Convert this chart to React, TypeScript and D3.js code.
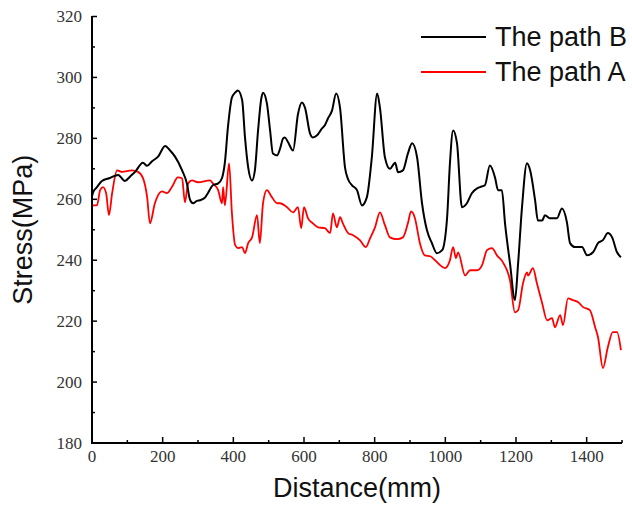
import React from "react";
import * as d3 from "d3";

const distB = [0,3,14,28,51,74,93,108,122,144,156,170,187,207,221,235,255,269,277,286,297,306,320,328,342,357,368,376,385,396,405,413,425,433,442,453,461,470,479,484,495,504,512,524,532,541,546,555,569,583,594,603,617,625,637,651,659,668,679,691,702,716,725,736,750,764,778,792,807,815,829,843,858,866,880,894,906,920,934,948,962,976,991,1005,1013,1022,1033,1047,1061,1075,1090,1098,1112,1126,1141,1149,1160,1169,1183,1197,1206,1217,1231,1240,1254,1262,1274,1282,1296,1316,1330,1344,1353,1367,1387,1401,1418,1432,1446,1460,1472,1486,1497];
const stressB = [261,262.3,264,266,267,268,266,267.5,269,272,271,272.5,274,277.5,276,274,269.5,265,260,258.7,259.5,259.7,260.6,262,264.6,265.2,267,272,284,293.4,295,295.7,292.5,280.3,270.5,266.2,269.5,282.6,293,295,291.5,282.6,275,274.4,276.5,280,280.3,278.7,276,288,291.8,290,281.6,280.3,281,283.3,284.3,286.6,289,294.7,290,270.5,266.5,264.6,263,258,260.7,273.8,294.7,290,273.8,270,272,268.9,269.5,275,278.4,273.8,258.7,249.8,245.6,242.3,243.3,254,271.8,282.6,278.4,257.4,258.7,262,263.6,264,264.6,271.1,267,263,263,252,239,226.9,239,257.4,271.8,269.5,259.7,253,253,254.8,253.8,253.8,257,252.5,245.6,244.3,244.3,241.6,242.6,245.6,246.6,248.9,247.5,242.6,241];

const distA = [0,14,23,31,40,48,57,71,85,113,130,144,156,164,178,198,212,226,243,255,263,272,283,300,334,342,357,368,371,376,388,396,405,413,425,433,442,453,467,475,484,495,509,524,532,552,569,583,592,600,611,625,640,659,674,682,693,702,710,725,739,758,775,787,801,815,829,843,863,880,894,903,914,928,942,957,971,985,999,1013,1022,1030,1036,1056,1070,1090,1104,1118,1132,1146,1163,1183,1197,1206,1220,1231,1234,1248,1259,1274,1288,1302,1310,1325,1333,1347,1361,1376,1390,1409,1424,1432,1446,1460,1474,1486,1497];
const stressA = [258,258,263,264,262,254.8,262,269.5,269,269.5,269,267,260.7,252.1,258.7,262.6,262,264,267.2,266.9,259,265.2,266.2,265.6,266.2,265.2,263,258.7,264,258,271.8,255.4,245,244,244.3,242.3,245.6,247.5,254.8,245.6,258.7,263,260.7,258.7,258.7,257.4,255.7,257.4,250.5,257.4,253.8,252.1,250.8,250.5,248.9,255.4,250.8,254.1,252.1,248.9,248.2,246.6,244.3,247.2,250.8,255.7,251.5,247.5,246.9,247.5,252.1,256,253.8,245.6,241.6,241.3,240,238.4,237.4,240,244.3,240.7,242.6,235,236.7,236.7,238.4,243.3,244,241.6,239.3,233.4,222.9,223.6,232.5,236,235,237.4,232.5,225.9,220.3,221,218,222,218.7,227.5,226.9,226.2,224.6,223.6,218,214.8,204.6,211.5,216.4,216.4,210.5];

const xMajor = [0,200,400,600,800,1000,1200,1400];
const xMinor = [100,300,500,700,900,1100,1300,1500];
const yMajor = [180,200,220,240,260,280,300,320];
const yMinor = [190,210,230,250,270,290,310];

const seriesNames = ["The path B", "The path A"];
const seriesColors = ["#000000", "#ff0000"];

export default function App() {
  const W = 632, H = 509;
  const x = d3.scaleLinear().domain([0, 1500]).range([92, 622]);
  const y = d3.scaleLinear().domain([180, 320]).range([443, 16.5]);
  const line = d3.line<[number, number]>().x(d => x(d[0])).y(d => y(d[1])).curve(d3.curveMonotoneX);
  const dataB: [number, number][] = distB.map((d, i) => [d, stressB[i]]);
  const dataA: [number, number][] = distA.map((d, i) => [d, stressA[i]]);
  const x0 = x(0), y0 = y(180);
  const tickFont = "'Liberation Serif', 'Times New Roman', serif";
  const sans = "'Liberation Sans', Arial, sans-serif";
  return (
    <svg width={W} height={H} style={{ position: "absolute", left: 0, top: 0, background: "#fff" }}>
      <rect width={W} height={H} fill="#fff" />
      <path d={line(dataA) || ""} fill="none" stroke={seriesColors[1]} strokeWidth={1.8} strokeLinejoin="round" />
      <path d={line(dataB) || ""} fill="none" stroke={seriesColors[0]} strokeWidth={2} strokeLinejoin="round" />
      {/* axes */}
      <line x1={x0} x2={x0} y1={y(320) - 0.5} y2={y0 + 1} stroke="#000" strokeWidth={2} />
      <line x1={x0 - 1} x2={x(1500)} y1={y0} y2={y0} stroke="#000" strokeWidth={2} />
      {yMajor.map(v => (
        <g key={"ym" + v}>
          <line x1={x0} x2={x0 + 5} y1={y(v)} y2={y(v)} stroke="#000" strokeWidth={1.5} />
          <text x={82} y={y(v) + 5.5} textAnchor="end" fontFamily={tickFont} fontSize={17} fill="#333">{v}</text>
        </g>
      ))}
      {yMinor.map(v => (
        <line key={"yn" + v} x1={x0} x2={x0 + 3} y1={y(v)} y2={y(v)} stroke="#000" strokeWidth={1.5} />
      ))}
      {xMajor.map(v => (
        <g key={"xm" + v}>
          <line x1={x(v)} x2={x(v)} y1={y0} y2={y0 - 6} stroke="#000" strokeWidth={1.5} />
          <text x={x(v)} y={462} textAnchor="middle" fontFamily={tickFont} fontSize={17} fill="#333">{v}</text>
        </g>
      ))}
      {xMinor.map(v => (
        <line key={"xn" + v} x1={x(v)} x2={x(v)} y1={y0} y2={y0 - 3} stroke="#000" strokeWidth={1.5} />
      ))}
      <text x={357} y={497} textAnchor="middle" fontFamily={sans} fontSize={27} fill="#111">Distance(mm)</text>
      <text transform={`translate(32,${(y(320) + y0) / 2}) rotate(-90)`} textAnchor="middle" fontFamily={sans} fontSize={27} fill="#111">Stress(MPa)</text>
      {/* legend */}
      {seriesNames.map((n, i) => (
        <g key={n}>
          <line x1={421} x2={486} y1={37 + i * 35} y2={37 + i * 35} stroke={seriesColors[i]} strokeWidth={2} />
          <text x={495} y={46 + i * 35} fontFamily={sans} fontSize={27} fill="#111">{n}</text>
        </g>
      ))}
    </svg>
  );
}
